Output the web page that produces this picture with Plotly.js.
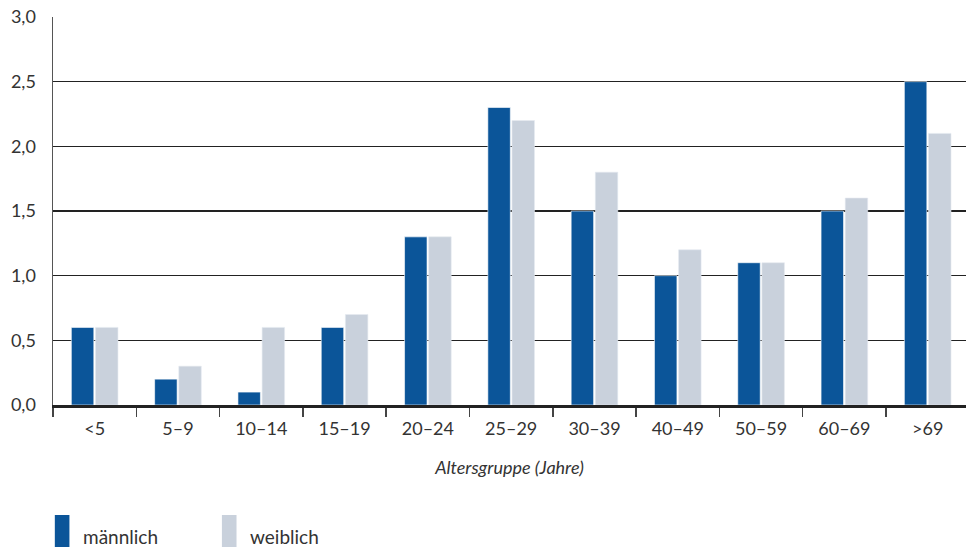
<!DOCTYPE html>
<html><head><meta charset="utf-8">
<script src="https://cdn.plot.ly/plotly-3.0.1.min.js"></script>
<style>html,body{margin:0;padding:0;background:#fff;}#chart{width:966px;height:547px;}</style>
</head><body><div id="chart"></div>
<script>
const categories = ["<5","5–9","10–14","15–19","20–24","25–29","30–39","40–49","50–59","60–69",">69"];
const maleValues = [0.6,0.2,0.1,0.6,1.3,2.3,1.5,1.0,1.1,1.5,2.5];
const femaleValues = [0.6,0.3,0.6,0.7,1.3,2.2,1.8,1.2,1.1,1.6,2.1];
const seriesNames = ["männlich","weiblich"];
const yTicks = [0,0.5,1,1.5,2,2.5,3];
const xTitle = "Altersgruppe (Jahre)";

const colMale = "#0b5599", colFemale = "#c9d1dc";
const font = "Lato, 'Open Sans', sans-serif";

const traces = [
  {type:"bar", x:categories, y:maleValues, name:seriesNames[0], marker:{color:colMale, line:{color:"#ffffff", width:0.6}}},
  {type:"bar", x:categories, y:femaleValues, name:seriesNames[1], marker:{color:colFemale, line:{color:"#e4e9f0", width:0.6}}}
];

const layout = {
  width:966, height:547,
  margin:{l:53, r:0, t:17, b:142},
  paper_bgcolor:"#fff", plot_bgcolor:"#fff",
  separators:",.",
  showlegend:false,
  barmode:"group", bargap:0.42, bargroupgap:0.07,
  font:{family:font, size:18, color:"#333"},
  xaxis:{
    type:"category", range:[-0.5,10.46],
    showgrid:false, showline:true, linecolor:"#222", linewidth:2.5,
    ticks:"outside", tickson:"boundaries", ticklen:9, tickwidth:1.5, tickcolor:"#444",
    ticklabelstandoff:6,
    tickfont:{size:18, color:"#333", family:font},
    title:{text:xTitle, font:{size:18, color:"#333", family:font, style:"italic"}, standoff:24}
  },
  yaxis:{
    range:[0,3], tickvals:yTicks, tickformat:".1f",
    showgrid:true, gridcolor:"#222", gridwidth:1.2,
    showline:true, linecolor:"#555", linewidth:1.5,
    zeroline:false, ticks:"", ticklabelstandoff:12,
    tickfont:{size:18, color:"#333", family:font}
  },
  shapes:[
    {type:"rect", xref:"paper", yref:"paper", x0:0.002, x1:0.018, y0:-0.2835, y1:-0.37, fillcolor:colMale, line:{width:0}},
    {type:"rect", xref:"paper", yref:"paper", x0:0.185, x1:0.201, y0:-0.2835, y1:-0.37, fillcolor:colFemale, line:{width:0}}
  ],
  annotations:[
    {xref:"paper", yref:"paper", x:0.031, y:-0.34, xanchor:"left", yanchor:"middle", text:seriesNames[0], showarrow:false, font:{size:19, color:"#333", family:font}},
    {xref:"paper", yref:"paper", x:0.214, y:-0.34, xanchor:"left", yanchor:"middle", text:seriesNames[1], showarrow:false, font:{size:19, color:"#333", family:font}}
  ]
};
Plotly.newPlot("chart", traces, layout, {displayModeBar:false, staticPlot:true});
</script></body></html>
